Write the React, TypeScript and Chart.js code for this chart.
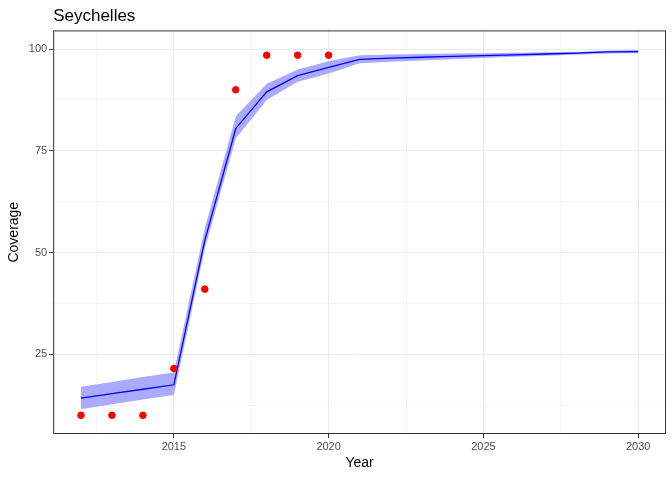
import React, { useEffect, useRef } from "react";
import { Chart, registerables } from "chart.js";
Chart.register(...registerables);

const years = [2012, 2013, 2014, 2015, 2016, 2017, 2018, 2019, 2020, 2021, 2022, 2023, 2024, 2025, 2026, 2027, 2028, 2029, 2030];
const fit = [14.2, 15.3, 16.4, 17.5, 53, 80.5, 89.5, 93.5, 95.5, 97.5, 97.8, 98.0, 98.2, 98.4, 98.6, 98.8, 99.0, 99.3, 99.4];
const lower = [11.5, 12.7, 13.9, 15, 51, 78, 87.5, 92, 94, 96.5, 96.9, 97.2, 97.5, 97.8, 98.1, 98.4, 98.6, 98.9, 99.0];
const upper = [17, 18.2, 19.4, 20.5, 56, 83.5, 91.5, 95, 97, 98.5, 98.7, 98.8, 98.9, 99.0, 99.1, 99.2, 99.3, 99.6, 99.8];
const obsYears = [2012, 2013, 2014, 2015, 2016, 2017, 2018, 2019, 2020];
const obsValues = [10, 10, 10, 21.5, 41, 90, 98.5, 98.5, 98.5];
const xTicks = [2012.5, 2015, 2017.5, 2020, 2022.5, 2025, 2027.5, 2030];
const yTicks = [12.5, 25, 37.5, 50, 62.5, 75, 87.5, 100];
const titleText = "Seychelles";

const isMajor = (v: number) => Number.isInteger(v) && (v % 5 === 0 || v % 25 === 0);

export default function App() {
  const ref = useRef<HTMLCanvasElement>(null);
  useEffect(() => {
    document.body.style.margin = "0";
    const border = {
      id: "border",
      afterDraw(c: any) {
        const a = c.chartArea, ctx = c.ctx;
        ctx.save();
        ctx.strokeStyle = "#333333";
        ctx.lineWidth = 1;
        ctx.strokeRect(a.left + 0.5, a.top + 0.5, a.right - a.left - 1, a.bottom - a.top - 1);
        ctx.fillStyle = "#000";
        ctx.font = "17px 'Liberation Sans', Arial";
        ctx.textBaseline = "alphabetic";
        ctx.textAlign = "left";
        ctx.fillText(titleText, a.left, 21);
        ctx.restore();
      },
    };
    const grid = () => ({
      color: (c: any) => (c.tick && isMajor(c.tick.value) ? "#ebebeb" : "#f5f5f5"),
      tickColor: (c: any) => (c.tick && isMajor(c.tick.value) ? "#333333" : "rgba(0,0,0,0)"),
      tickLength: 4,
      lineWidth: 1,
    });
    const font = { family: "Liberation Sans, Arial", size: 11 };
    const chart = new Chart(ref.current!, {
      type: "line",
      data: {
        datasets: [
          { order: 3, data: years.map((x, i) => ({ x, y: lower[i] })), borderWidth: 0, pointRadius: 0, fill: false, borderColor: "transparent" },
          { order: 2, data: years.map((x, i) => ({ x, y: upper[i] })), borderWidth: 0, pointRadius: 0, fill: "-1", backgroundColor: "rgba(170,170,255,1)", borderColor: "transparent" },
          { order: 1, data: years.map((x, i) => ({ x, y: fit[i] })), borderColor: "#0000ff", borderWidth: 1.3, pointRadius: 0, fill: false },
          { order: 0, type: "scatter", data: obsYears.map((x, i) => ({ x, y: obsValues[i] })), backgroundColor: "#ff0000", borderColor: "#ff0000", pointRadius: 3.3 } as any,
        ],
      },
      options: {
        animation: false,
        responsive: false,
        layout: { padding: { left: 2, right: 6, top: 0, bottom: 4 } },
        plugins: {
          legend: { display: false },
          tooltip: { enabled: false },
          title: { display: true, text: " ", font: { size: 17 }, padding: { top: 4, bottom: 6 } },
        },
        scales: {
          x: {
            type: "linear", min: 2011.1, max: 2030.9,
            afterBuildTicks: (s: any) => { s.ticks = xTicks.map((v) => ({ value: v })); },
            ticks: { callback: (v: any) => (isMajor(v) ? String(v) : ""), color: "#4d4d4d", font, maxRotation: 0, autoSkip: false, padding: 2 },
            grid: grid() as any,
            border: { display: false },
            title: { display: true, text: "Year", color: "#000", font: { family: "Liberation Sans, Arial", size: 14 }, padding: { top: 0 } },
          },
          y: {
            type: "linear", min: 5.4, max: 104.6,
            afterBuildTicks: (s: any) => { s.ticks = yTicks.map((v) => ({ value: v })); },
            ticks: { callback: (v: any) => (isMajor(v) ? String(v) : ""), color: "#4d4d4d", font, autoSkip: false, padding: 2 },
            grid: grid() as any,
            border: { display: false },
            title: { display: true, text: "Coverage", color: "#000", font: { family: "Liberation Sans, Arial", size: 14 }, padding: { bottom: 4 } },
          },
        },
      },
      plugins: [border],
    } as any);
    return () => chart.destroy();
  }, []);
  return <canvas ref={ref} width={672} height={480} style={{ display: "block" }} />;
}
